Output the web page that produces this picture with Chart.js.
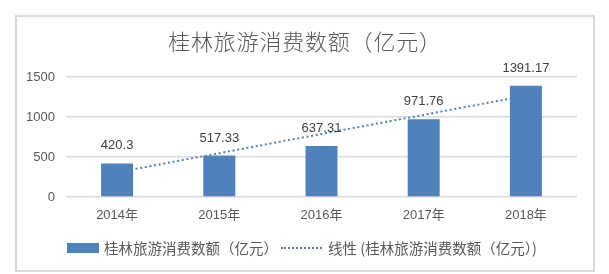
<!DOCTYPE html>
<html>
<head>
<meta charset="utf-8">
<script src="https://cdn.jsdelivr.net/npm/chart.js@4"></script>
<style>
  html, body { margin: 0; padding: 0; background: #fff; }
  #wrap { position: relative; width: 609px; height: 274px; overflow: hidden; }
  #frame { position: absolute; left: 15px; top: 15px; width: 580px; height: 257px; box-sizing: border-box; border: 2px solid #d9d9d9; }
  canvas { position: absolute; left: 0; top: 0; }
  #title { position: absolute; left: 155px; width: 300px; top: 26px; text-align: center; font-family: "Noto Sans CJK SC", sans-serif; font-weight: 300; font-size: 22px; letter-spacing: 0.8px; line-height: 28px; color: #595959; white-space: nowrap; }
  .lg { position: absolute; font-family: "Noto Sans CJK SC", sans-serif; font-size: 14.5px; color: #595959; line-height: 18px; top: 239px; white-space: nowrap; }
  #sw1 { position: absolute; left: 67px; top: 243px; width: 32px; height: 10px; background: #4f81bd; }
  #sw2 { position: absolute; left: 281px; top: 247px; width: 41px; height: 0; border-top: 2px dotted #4f81bd; }
</style>
</head>
<body>
<div id="wrap">
  <div id="frame"></div>
  <canvas id="c" width="609" height="274"></canvas>
  <div id="title"></div>
  <div id="sw1"></div>
  <div class="lg" id="t1" style="left:104px"></div>
  <div id="sw2"></div>
  <div class="lg" id="t2" style="left:328px"></div>
</div>
<script>
const title = "桂林旅游消费数额（亿元）";
const categories = ["2014年", "2015年", "2016年", "2017年", "2018年"];
const seriesName = "桂林旅游消费数额（亿元）";
const values = [420.3, 517.33, 637.31, 971.76, 1391.17];
const valueLabels = ["420.3", "517.33", "637.31", "971.76", "1391.17"];
const trendName = "线性 (桂林旅游消费数额（亿元）)";
const trendValues = [308, 548, 788, 1027, 1267];
const yTicks = [0, 500, 1000, 1500];

document.getElementById('title').textContent = title;
document.getElementById('t1').textContent = seriesName;
document.getElementById('t2').textContent = trendName;

const labelPlugin = {
  id: 'valueLabels',
  afterDatasetsDraw(chart) {
    const meta = chart.getDatasetMeta(0);
    const ctx = chart.ctx;
    ctx.save();
    ctx.font = '13px "Liberation Sans", sans-serif';
    ctx.fillStyle = '#404040';
    ctx.textAlign = 'center';
    ctx.textBaseline = 'middle';
    meta.data.forEach((bar, i) => {
      ctx.fillText(valueLabels[i], bar.x, bar.y - 17.5);
    });
    ctx.restore();
  }
};

new Chart(document.getElementById('c'), {
  data: {
    labels: categories,
    datasets: [
      {
        type: 'bar',
        label: seriesName,
        data: values,
        backgroundColor: '#4f81bd',
        barPercentage: 0.313,
        categoryPercentage: 1,
        order: 0
      },
      {
        type: 'line',
        label: trendName,
        data: trendValues,
        borderColor: '#4f81bd',
        borderWidth: 2,
        borderDash: [2, 2.7],
        borderCapStyle: 'butt',
        pointRadius: 0,
        fill: false,
        tension: 0,
        order: 1
      }
    ]
  },
  options: {
    responsive: false,
    animation: false,
    devicePixelRatio: 1,
    layout: { padding: { left: 0, right: 32, top: 77, bottom: 0 } },
    plugins: {
      legend: { display: false },
      tooltip: { enabled: false },
      title: { display: false }
    },
    scales: {
      x: {
        grid: { display: false, drawTicks: false },
        border: { display: false },
        ticks: {
          color: '#595959',
          font: { family: '"Liberation Sans", "Noto Sans CJK SC", sans-serif', size: 13 },
          padding: 11
        },
        afterFit(s) { s.height = 77; }
      },
      y: {
        min: 0,
        max: 1500,
        afterBuildTicks(s) { s.ticks = yTicks.map(v => ({ value: v })); },
        grid: { color: '#d9d9d9', lineWidth: 1.5, drawTicks: false },
        border: { display: false },
        ticks: {
          color: '#595959',
          font: { family: '"Liberation Sans", sans-serif', size: 13 },
          padding: 11,
          callback: (v) => String(v)
        },
        afterFit(s) { s.width = 66; }
      }
    }
  },
  plugins: [labelPlugin]
});
</script>
</body>
</html>
